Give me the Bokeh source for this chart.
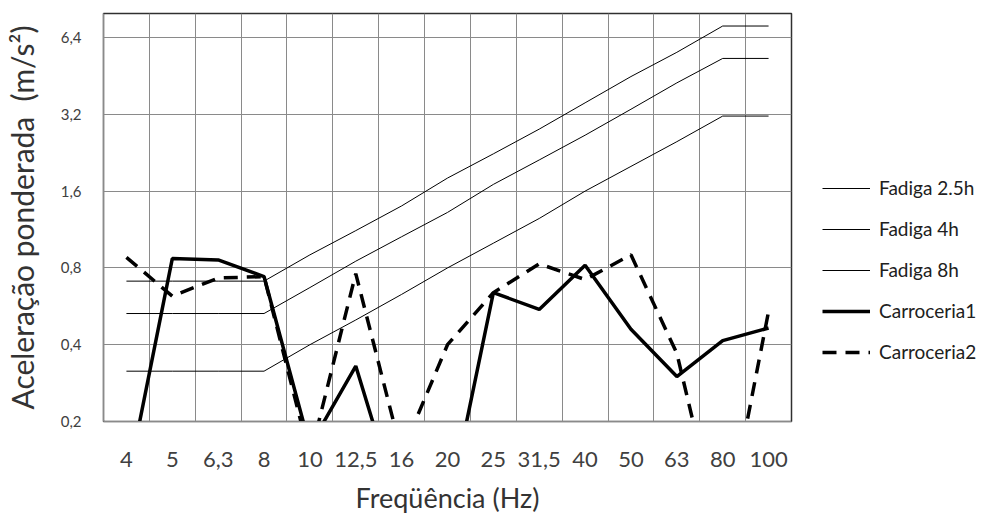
from bokeh.plotting import figure
from bokeh.layouts import row
from bokeh.models import (FactorRange, Range1d, FixedTicker, CustomJSTickFormatter,
                          Legend, LegendItem)
from bokeh.embed import file_html
from bokeh.resources import INLINE

# ---- data ----
freqs = ["4", "5", "6,3", "8", "10", "12,5", "16", "20", "25", "31,5", "40", "50", "63", "80", "100"]
fadiga_25h = [0.71, 0.71, 0.71, 0.71, 0.90, 1.12, 1.40, 1.80, 2.24, 2.80, 3.55, 4.50, 5.60, 7.10, 7.10]
fadiga_4h = [0.53, 0.53, 0.53, 0.53, 0.67, 0.85, 1.06, 1.32, 1.70, 2.12, 2.65, 3.35, 4.25, 5.30, 5.30]
fadiga_8h = [0.315, 0.315, 0.315, 0.315, 0.40, 0.50, 0.63, 0.80, 1.00, 1.25, 1.60, 2.00, 2.50, 3.15, 3.15]
carroceria1 = [0.11, 0.87, 0.86, 0.74, 0.16, 0.33, 0.085, 0.087, 0.64, 0.55, 0.82, 0.46, 0.30, 0.415, 0.465]
carroceria2 = [0.88, 0.62, 0.73, 0.74, 0.145, 0.76, 0.15, 0.40, 0.64, 0.83, 0.72, 0.90, 0.37, 0.065, 0.54]
y_ticks = [0.2, 0.4, 0.8, 1.6, 3.2, 6.4]
y_tick_labels = ["0,2", "0,4", "0,8", "1,6", "3,2", "6,4"]
series_names = ["Fadiga 2.5h", "Fadiga 4h", "Fadiga 8h", "Carroceria1", "Carroceria2"]

FONT = "Lato"
GRID = "#8a8a8a"
TXT = "#404040"

styles = [dict(line_color="black", line_width=1),
          dict(line_color="black", line_width=1),
          dict(line_color="black", line_width=1),
          dict(line_color="black", line_width=3.5),
          dict(line_color="black", line_width=3.5, line_dash="14 9")]
series = [fadiga_25h, fadiga_4h, fadiga_8h, carroceria1, carroceria2]

p = figure(width=795, height=517, output_backend="svg", toolbar_location=None,
           x_range=FactorRange(factors=freqs, range_padding=0),
           y_range=Range1d(0.2, 7.95), y_axis_type="log",
           min_border_left=99, min_border_right=4, min_border_top=13, min_border_bottom=96)

p.background_fill_color = "white"
p.border_fill_color = "white"
p.outline_line_color = "#303030"
p.outline_line_width = 1.5

# grids
p.xgrid.ticker = FixedTicker(ticks=list(range(len(freqs) + 1)))
p.xgrid.grid_line_color = GRID
p.ygrid.ticker = FixedTicker(ticks=y_ticks)
p.ygrid.grid_line_color = GRID
p.ygrid.minor_grid_line_color = None

# axes
p.yaxis.ticker = FixedTicker(ticks=y_ticks, minor_ticks=[])
p.yaxis.formatter = CustomJSTickFormatter(args=dict(tv=y_ticks, tl=y_tick_labels), code="""
let best = 0;
for (let i = 0; i < tv.length; i++) {
  if (Math.abs(Math.log(tv[i]) - Math.log(tick)) < Math.abs(Math.log(tv[best]) - Math.log(tick))) best = i;
}
return tl[best];
""")
for ax in (p.xaxis[0], p.yaxis[0]):
    ax.axis_line_color = GRID
    ax.major_tick_line_color = None
    ax.minor_tick_line_color = None
    ax.major_label_text_font = FONT
    ax.major_label_text_color = TXT
    ax.axis_label_text_font = FONT
    ax.axis_label_text_font_style = "normal"
    ax.axis_label_text_color = "#333333"

p.yaxis.major_label_text_font_size = "15px"
p.yaxis.major_label_standoff = 16
p.yaxis.axis_label = "Aceleração ponderada\u00a0 (m/s²)"
p.yaxis.axis_label_text_font_size = "30px"
p.yaxis.axis_label_standoff = 18

p.xaxis.major_label_text_font_size = "22px"
p.xaxis.major_label_standoff = 24
p.xaxis.axis_label = "Freqüência (Hz)"
p.xaxis.axis_label_text_font_size = "27px"
p.xaxis.axis_label_standoff = 11

# data lines
for vals, st in zip(series, styles):
    p.line(freqs, vals, **st)

# legend panel (separate plot placed to the right of the chart)
q = figure(width=200, height=517, output_backend="svg", toolbar_location=None,
           x_range=FactorRange(factors=freqs, range_padding=0),
           y_range=Range1d(0.2, 7.95), y_axis_type="log",
           x_axis_location=None, y_axis_location=None,
           min_border_left=0, min_border_right=0, min_border_top=0, min_border_bottom=0)
q.xgrid.visible = False
q.ygrid.visible = False
q.outline_line_color = None
q.background_fill_color = "white"
q.border_fill_color = "white"

items = []
for name, vals, st in zip(series_names, series, styles):
    r = q.line(freqs, vals, **st)
    r.visible = False
    items.append(LegendItem(label=name, renderers=[r]))

legend = Legend(items=items, location=(27, 58))
legend.border_line_color = None
legend.background_fill_alpha = 0
legend.inactive_fill_alpha = 0
legend.padding = 0
legend.margin = 0
legend.spacing = 18
legend.glyph_width = 48
legend.glyph_height = 22
legend.label_height = 22
legend.label_standoff = 9
legend.label_text_font = FONT
legend.label_text_font_size = "19px"
legend.label_text_color = "#202020"
q.add_layout(legend)

layout = row(p, q, spacing=0)
open("out.html", "w").write(file_html(layout, INLINE))
